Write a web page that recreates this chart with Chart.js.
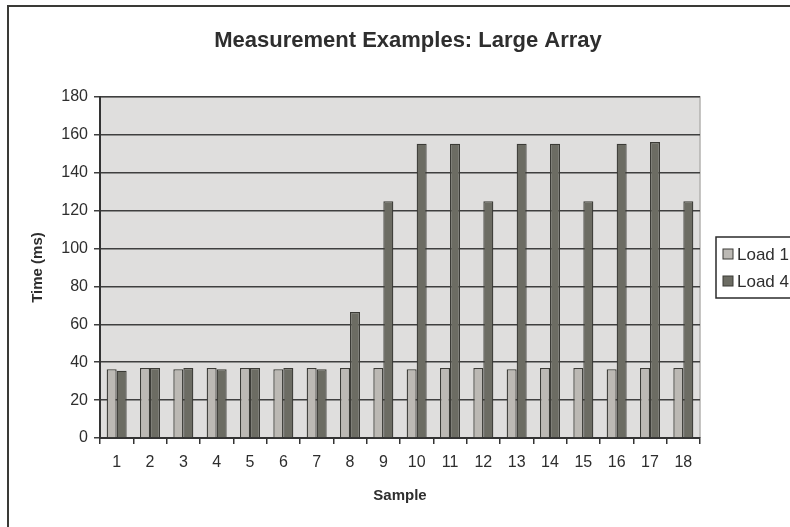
<!DOCTYPE html>
<html>
<head>
<meta charset="utf-8">
<script src="https://cdn.jsdelivr.net/npm/chart.js@4"></script>
<style>
  html, body { margin: 0; padding: 0; background: #fff; overflow: hidden; }
  #wrap { position: relative; width: 790px; height: 527px; overflow: hidden; }
  #frame { position: absolute; left: 7px; top: 5px; width: 900px; height: 700px; border: 2px solid #3a3a36; }
  #chart { position: absolute; left: 0; top: 0; }
</style>
</head>
<body>
<div id="wrap">
  <div id="frame"></div>
  <canvas id="chart" width="806" height="527"></canvas>
</div>
<script>
// Data
const samples = ['1','2','3','4','5','6','7','8','9','10','11','12','13','14','15','16','17','18'];
const load1 = [36.3, 37, 36.3, 37, 37, 36.3, 37, 37, 37, 36.3, 37, 37, 36.3, 37, 37, 36.3, 37, 37];
const load4 = [35.5, 37, 37, 36.3, 37, 37, 36.3, 66.5, 125, 155.3, 155.3, 125, 155.3, 155.3, 125, 155.3, 156.2, 125];
const seriesNames = ['Load 1', 'Load 4'];
const yTicks = [0, 20, 40, 60, 80, 100, 120, 140, 160, 180];

const FONT = '"Liberation Sans", Arial, sans-serif';
const TEXT = '#2e2e2e';

// grey plot area behind the bars
const plotBg = {
    id: 'plotBg',
    beforeDraw(chart) {
        const { ctx, chartArea: a } = chart;
        ctx.save();
        ctx.fillStyle = '#dfdedd';
        ctx.fillRect(a.left, a.top, a.right - a.left, a.bottom - a.top);
        // light frame on top and right
        ctx.strokeStyle = '#b4b3b0';
        ctx.lineWidth = 1.5;
        ctx.beginPath();
        ctx.moveTo(a.left, a.top);
        ctx.lineTo(a.right, a.top);
        ctx.lineTo(a.right, a.bottom);
        ctx.stroke();
        ctx.restore();
    }
};

// legend box on the right (runs off the edge like the original)
const boxLegend = {
    id: 'boxLegend',
    afterDraw(chart) {
        const { ctx } = chart;
        const x = 716, y = 237, h = 61;
        ctx.save();
        ctx.strokeStyle = '#2b2b2b';
        ctx.lineWidth = 1.5;
        ctx.strokeRect(x, y, 120, h);
        ctx.font = '17px ' + FONT;
        ctx.textBaseline = 'middle';
        chart.data.datasets.forEach((ds, i) => {
            const cy = y + 17 + i * 27;
            ctx.fillStyle = ds.backgroundColor;
            ctx.fillRect(x + 7, cy - 5, 10, 10);
            ctx.strokeStyle = '#3b3b36';
            ctx.lineWidth = 1;
            ctx.strokeRect(x + 7, cy - 5, 10, 10);
            ctx.fillStyle = TEXT;
            ctx.fillText(ds.label, x + 21, cy + 1);
        });
        ctx.restore();
    }
};

new Chart(document.getElementById('chart'), {
    type: 'bar',
    data: {
        labels: samples,
        datasets: [
            { label: seriesNames[0], data: load1, backgroundColor: '#bcb9b4', borderColor: '#3b3b36', borderWidth: 1.3 },
            { label: seriesNames[1], data: load4, backgroundColor: '#6c6c63', borderColor: '#3b3b36', borderWidth: 1.3 }
        ]
    },
    options: {
        responsive: false,
        animation: false,
        layout: { padding: { left: 10, top: 28, right: 0, bottom: 0 } },
        datasets: { bar: { categoryPercentage: 0.6, barPercentage: 1 } },
        plugins: {
            legend: { display: false },
            tooltip: { enabled: false },
            title: {
                display: true,
                text: 'Measurement Examples: Large Array',
                color: TEXT,
                font: { family: FONT, size: 22, weight: 'bold' },
                padding: { top: 0, bottom: 42.6 }
            }
        },
        scales: {
            x: {
                afterFit: s => { s.height = 89; },
                grid: { display: true, drawOnChartArea: false, offset: true, tickLength: 6, color: '#333', lineWidth: 1.5 },
                border: { color: '#333', width: 2 },
                ticks: { color: TEXT, font: { family: FONT, size: 16 }, padding: 9 },
                title: { display: true, text: 'Sample', color: TEXT, font: { family: FONT, size: 15, weight: 'bold' }, padding: { top: 0, bottom: 22 } }
            },
            y: {
                min: 0,
                max: 180,
                afterFit: s => { s.width = 90; },
                afterBuildTicks: s => { s.ticks = yTicks.map(v => ({ value: v })); },
                grid: { color: '#3f3f3f', lineWidth: 1.5, tickLength: 6 },
                border: { color: '#333', width: 2 },
                ticks: { color: TEXT, font: { family: FONT, size: 16 }, padding: 6 },
                title: { display: true, text: 'Time (ms)', color: TEXT, font: { family: FONT, size: 15, weight: 'bold' }, padding: { top: 18.6, bottom: 0 } }
            },
            // empty right-hand axis that keeps room for the legend
            legendSpace: {
                position: 'right',
                afterFit: s => { s.width = 106; },
                grid: { display: false },
                border: { display: false },
                ticks: { display: false }
            }
        }
    },
    plugins: [plotBg, boxLegend]
});
</script>
</body>
</html>
